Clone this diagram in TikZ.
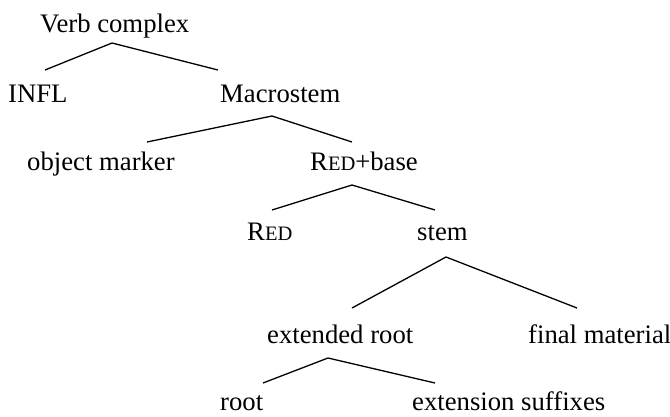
\documentclass[tikz,border=0pt]{standalone}
\usepackage{fontspec}
\setmainfont{Liberation Serif}
\newcommand{\redsc}{R{\fontsize{20.5}{24}\selectfont ED}}
\begin{document}
\begin{tikzpicture}[x=1pt,y=-1pt,
  label/.style={inner sep=0pt, anchor=base west, font=\fontsize{26.7}{32}\selectfont},
  branch/.style={line width=1.3pt, line join=miter}]
\useasboundingbox (0,0) rectangle (670,416);

% tree labels
\node[label] (vc)   at (40,32)   {Verb complex};
\node[label] (infl) at (8,102)   {INFL};
\node[label] (ms)   at (220,102) {Macrostem};
\node[label] (om)   at (27,170)  {object marker};
\node[label] (rb)   at (310,170) {\redsc+base};
\node[label] (red)  at (247,240) {\redsc};
\node[label] (stem) at (417,240) {stem};
\node[label] (er)   at (267,343) {extended root};
\node[label] (fm)   at (528,343) {final material};
\node[label] (root) at (220,410) {root};
\node[label] (es)   at (412,410) {extension suffixes};

% branch points
\coordinate (vc-top)   at (112,43);
\coordinate (infl-up)  at (45,70);
\coordinate (ms-up)    at (218,70);
\coordinate (ms-top)   at (272,116);
\coordinate (om-up)    at (147,142);
\coordinate (rb-up)    at (352,142);
\coordinate (rb-top)   at (352,185);
\coordinate (red-up)   at (272,210);
\coordinate (stem-up)  at (435,210);
\coordinate (stem-top) at (446,257);
\coordinate (er-up)    at (352,308);
\coordinate (fm-up)    at (577,308);
\coordinate (er-top)   at (328,358);
\coordinate (root-up)  at (263,383);
\coordinate (es-up)    at (435,383);

% branches
\draw[branch] (infl-up) -- (vc-top) -- (ms-up);
\draw[branch] (om-up) -- (ms-top) -- (rb-up);
\draw[branch] (red-up) -- (rb-top) -- (stem-up);
\draw[branch] (er-up) -- (stem-top) -- (fm-up);
\draw[branch] (root-up) -- (er-top) -- (es-up);
\end{tikzpicture}
\end{document}
